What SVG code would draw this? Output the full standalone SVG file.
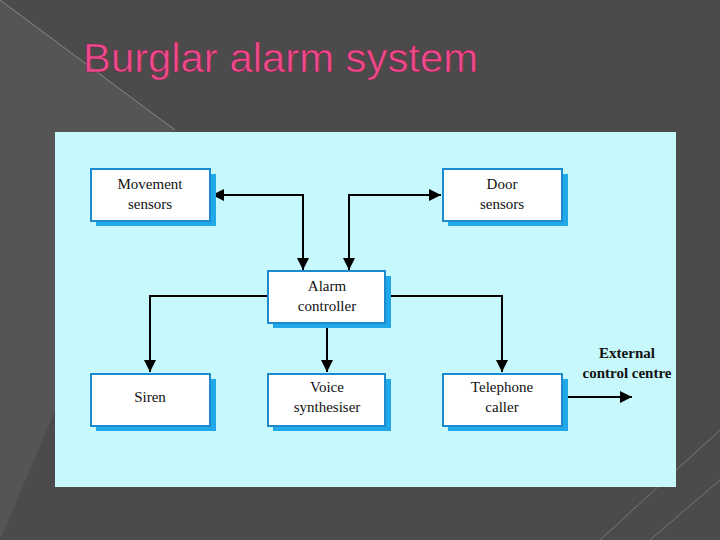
<svg xmlns="http://www.w3.org/2000/svg" width="720" height="540" viewBox="0 0 720 540">
<defs>
<style>
.box{fill:#fff;stroke:#1e8ad0;stroke-width:2}
.sh{fill:#20a8e8}
.t{font-family:"Liberation Serif",serif;font-size:15px;fill:#111;text-anchor:middle}
.c{fill:none;stroke:#000;stroke-width:2}
</style>
<marker id="a" viewBox="0 0 10 10" refX="10" refY="5" markerWidth="6" markerHeight="6" orient="auto-start-reverse"><path d="M0,0L10,5L0,10z" fill="#000"/></marker>
</defs>
<rect width="720" height="540" fill="#4b4b4b"/>
<path d="M0,0L175,130L0,540z" fill="#555"/>
<path d="M0,0L175,130" stroke="#888" stroke-width="1"/>
<path d="M600,540L720,430M650,540L720,480" stroke="#777" stroke-width="1"/>
<text x="83" y="72" font-family="Liberation Sans,Arial,sans-serif" font-size="40" textLength="395" lengthAdjust="spacingAndGlyphs" fill="#ee4b8c" stroke="#7a2040" stroke-width="0.5">Burglar alarm system</text>
<rect x="55" y="132" width="621" height="355" fill="#c6f8fc"/>
<g id="connectors">
<path class="c" d="M303,271V195H212" marker-end="url(#a)"/>
<path class="c" d="M303,195V270" marker-end="url(#a)"/>
<path class="c" d="M349,271V195H441" marker-end="url(#a)"/>
<path class="c" d="M349,195V270" marker-end="url(#a)"/>
<path class="c" d="M268,296H150V372" marker-end="url(#a)"/>
<path class="c" d="M327,323V372" marker-end="url(#a)"/>
<path class="c" d="M385,296H502V372" marker-end="url(#a)"/>
<path class="c" d="M562,397H632" stroke-width="1.2" marker-end="url(#a)"/>
</g>
<g id="movement"><rect class="sh" x="96" y="174" width="120" height="52"/><rect class="box" x="91" y="169" width="119" height="52"/><text class="t" x="150" y="189">Movement</text><text class="t" x="150" y="209">sensors</text></g>
<g id="door"><rect class="sh" x="448" y="174" width="120" height="52"/><rect class="box" x="443" y="169" width="119" height="52"/><text class="t" x="502" y="189">Door</text><text class="t" x="502" y="209">sensors</text></g>
<g id="alarm"><rect class="sh" x="273" y="276" width="118" height="52"/><rect class="box" x="268" y="271" width="117" height="52"/><text class="t" x="327" y="291">Alarm</text><text class="t" x="327" y="311">controller</text></g>
<g id="siren"><rect class="sh" x="96" y="379" width="120" height="52"/><rect class="box" x="91" y="374" width="119" height="52"/><text class="t" x="150" y="402">Siren</text></g>
<g id="voice"><rect class="sh" x="273" y="379" width="118" height="52"/><rect class="box" x="268" y="374" width="117" height="52"/><text class="t" x="327" y="392">Voice</text><text class="t" x="327" y="412">synthesiser</text></g>
<g id="telephone"><rect class="sh" x="448" y="379" width="120" height="52"/><rect class="box" x="443" y="374" width="119" height="52"/><text class="t" x="502" y="392">Telephone</text><text class="t" x="502" y="412">caller</text></g>
<g id="external"><text class="t" x="627" y="358" font-weight="bold">External</text><text class="t" x="627" y="378" font-weight="bold">control centre</text></g>
</svg>
